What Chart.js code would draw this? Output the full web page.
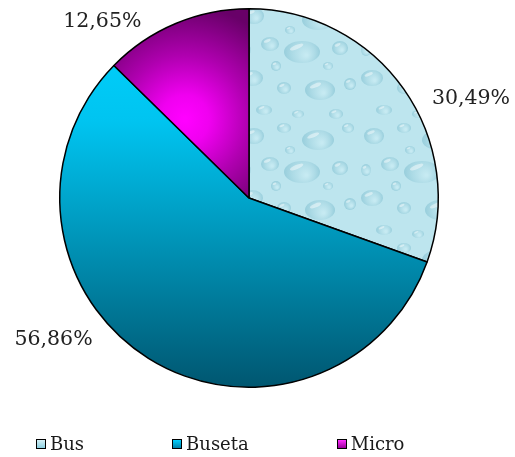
<!DOCTYPE html>
<html>
<head>
<meta charset="utf-8">
<script src="https://cdn.jsdelivr.net/npm/chart.js@4"></script>
<style>
  html, body { margin: 0; padding: 0; background: #fff; }
  #wrap { position: relative; width: 515px; height: 457px; }
  #legend {
    position: absolute; left: 36px; top: 434px;
    display: flex; align-items: center;
    font-family: "DejaVu Serif", serif; font-size: 18px; color: #1a1a1a;
    line-height: 20px;
  }
  .item { display: flex; align-items: center; margin-right: 88px; }
  .box { width: 10px; height: 10px; box-sizing: border-box; border: 1.5px solid #000; margin-right: 4px; }
</style>
</head>
<body>
<div id="wrap">
  <canvas id="pieChart" width="515" height="457"></canvas>
  <div id="legend"></div>
</div>
<script>
const categories = ['Bus', 'Buseta', 'Micro'];
const shares = [30.49, 56.86, 12.65];

// label placement tweaks (degrees / px beyond the rim)
const labelShift = [11, 22, -17];
const labelGap = [54, 52, 40];
const legendSwatch = [
  'linear-gradient(#d4f0f6, #8ccfe0)',
  'linear-gradient(#00d0ff, #0080a8)',
  'linear-gradient(#ff30ff, #990099)'
];

// soft water drop texture for the Bus slice
function dropPattern(ctx) {
  const c = document.createElement('canvas');
  c.width = 120; c.height = 120;
  const g = c.getContext('2d');
  g.fillStyle = '#bde5ee';
  g.fillRect(0, 0, 120, 120);
  const drops = [
    [14,16,10,8],[44,8,7,5],[78,20,16,10],[108,8,6,5],[30,44,9,7],[62,52,18,11],
    [100,48,8,7],[12,78,11,8],[44,88,7,6],[80,90,15,10],[110,84,6,6],[24,110,8,5],
    [58,114,6,4],[96,114,7,5],[6,50,5,6],[50,30,5,4],[88,66,5,4],[36,66,5,5]
  ];
  drops.forEach(([x, y, rx, ry]) => {
    const rg = g.createRadialGradient(x + rx * 0.25, y + ry * 0.3, 1, x, y, Math.max(rx, ry));
    rg.addColorStop(0, '#c6eaf2');
    rg.addColorStop(0.6, '#addbe6');
    rg.addColorStop(1, '#98cedc');
    g.fillStyle = rg;
    g.beginPath(); g.ellipse(x, y, rx, ry, 0, 0, Math.PI * 2); g.fill();
    g.fillStyle = 'rgba(255,255,255,0.45)';
    g.beginPath(); g.ellipse(x - rx * 0.3, y - ry * 0.45, rx * 0.4, ry * 0.2, -0.4, 0, Math.PI * 2); g.fill();
  });
  return ctx.createPattern(c, 'repeat');
}

function sliceFill(context) {
  const chart = context.chart;
  const area = chart.chartArea;
  const i = context.dataIndex;
  if (!area) return ['#b9e4ee', '#00a8d8', '#cc00cc'][i];
  const ctx = chart.ctx;
  const cx = (area.left + area.right) / 2;
  const cy = (area.top + area.bottom) / 2;
  const r = area.height / 2;
  if (i === 0) return dropPattern(ctx);
  if (i === 1) {
    const lg = ctx.createLinearGradient(0, cy - r, 0, cy + r);
    lg.addColorStop(0, '#00d4ff');
    lg.addColorStop(0.3, '#00c4f0');
    lg.addColorStop(0.6, '#0096ba');
    lg.addColorStop(1, '#005670');
    return lg;
  }
  // Micro: glow centred inside the slice
  const total = shares.reduce((a, b) => a + b, 0);
  const before = shares.slice(0, i).reduce((a, b) => a + b, 0);
  const mid = -Math.PI / 2 + (before + shares[i] / 2) / total * Math.PI * 2 - 0.2;
  const gx = cx + Math.cos(mid) * r * 0.6;
  const gy = cy + Math.sin(mid) * r * 0.5;
  const rg = ctx.createRadialGradient(gx, gy, 2, gx, gy, r * 0.6);
  rg.addColorStop(0, '#ff00ff');
  rg.addColorStop(0.2, '#f000f0');
  rg.addColorStop(0.55, '#b000b0');
  rg.addColorStop(1, '#680068');
  return rg;
}

const pctLabels = {
  id: 'pctLabels',
  afterDatasetsDraw(chart) {
    const ctx = chart.ctx;
    const meta = chart.getDatasetMeta(0);
    ctx.save();
    ctx.font = '20.5px "DejaVu Serif", serif';
    ctx.fillStyle = '#222';
    ctx.textAlign = 'center';
    ctx.textBaseline = 'middle';
    meta.data.forEach((arc, i) => {
      const p = arc.getProps(['x', 'y', 'startAngle', 'endAngle', 'outerRadius'], true);
      const a = (p.startAngle + p.endAngle) / 2 + labelShift[i] * Math.PI / 180;
      const d = p.outerRadius + labelGap[i];
      const txt = shares[i].toFixed(2).replace('.', ',') + '%';
      ctx.fillText(txt, p.x + Math.cos(a) * d, p.y + Math.sin(a) * d);
    });
    ctx.restore();
  }
};

new Chart(document.getElementById('pieChart').getContext('2d'), {
  type: 'pie',
  data: {
    labels: categories,
    datasets: [{
      data: shares,
      backgroundColor: sliceFill,
      borderColor: '#000',
      borderWidth: 1.5,
      hoverOffset: 0
    }]
  },
  options: {
    responsive: false,
    animation: false,
    layout: { padding: { top: 8, bottom: 69, left: 0, right: 17 } },
    plugins: {
      legend: { display: false },
      tooltip: { enabled: false }
    }
  },
  plugins: [pctLabels]
});

const legend = document.getElementById('legend');
categories.forEach((name, i) => {
  const item = document.createElement('div');
  item.className = 'item';
  const box = document.createElement('span');
  box.className = 'box';
  box.style.background = legendSwatch[i];
  item.appendChild(box);
  item.appendChild(document.createTextNode(name));
  legend.appendChild(item);
});
</script>
</body>
</html>
